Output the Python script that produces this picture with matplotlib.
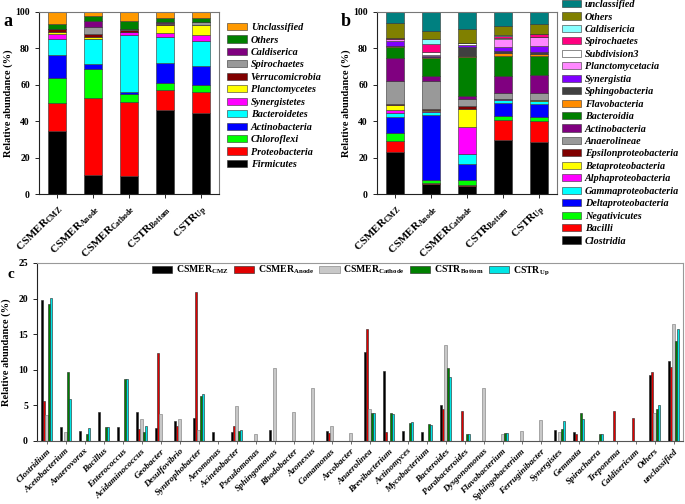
import numpy as np
import matplotlib
matplotlib.use("Agg")
import matplotlib.pyplot as plt

plt.rcParams['font.family'] = ['Liberation Serif', 'DejaVu Serif']
plt.rcParams['font.weight'] = 'bold'
plt.rcParams['mathtext.fontset'] = 'custom'
plt.rcParams['mathtext.rm'] = 'Liberation Serif:bold'
plt.rcParams['mathtext.bf'] = 'Liberation Serif:bold'
plt.rcParams['mathtext.it'] = 'Liberation Serif:italic:bold'

samples = [r"CSMER$_{\mathrm{CMZ}}$", r"CSMER$_{\mathrm{Anode}}$", r"CSMER$_{\mathrm{Cathode}}$",
           r"CSTR$_{\mathrm{Bottom}}$", r"CSTR$_{\mathrm{Up}}$"]

# panel a: phylum level (bottom -> top)
phyla = ['Firmicutes', 'Proteobacteria', 'Chloroflexi', 'Actinobacteria', 'Bacteroidetes',
         'Synergistetes', 'Planctomycetes', 'Verrucomicrobia', 'Spirochaetes', 'Caldiserica',
         'Others', 'Unclassified']
phyla_colors = ['#000000', '#ff0000', '#00ff00', '#0000ff', '#00ffff', '#ff00ff', '#ffff00',
                '#800000', '#999999', '#800080', '#008000', '#ff9900']
firmicutes = [34.5, 10.3, 9.9, 46.2, 44.6]
proteobacteria = [15.6, 42.2, 40.6, 10.7, 11.2]
chloroflexi = [13.6, 16.1, 4.4, 4.0, 4.2]
actinobacteria_p = [12.6, 2.8, 1.4, 11.2, 10.5]
bacteroidetes = [8.7, 13.6, 31.2, 14.3, 13.4]
synergistetes = [2.9, 0.3, 1.3, 1.9, 3.3]
planctomycetes = [1.3, 0.8, 0.3, 4.7, 5.6]
verrucomicrobia = [1.3, 1.6, 1.2, 0.3, 0.3]
spirochaetes_p = [0.0, 4.3, 0.3, 0.9, 1.2]
caldiserica = [0.3, 3.3, 0.2, 0.2, 0.2]
others_p = [2.6, 2.4, 4.4, 2.5, 2.4]
unclassified_p = [6.6, 2.3, 4.8, 3.1, 3.1]
phyla_values = [firmicutes, proteobacteria, chloroflexi, actinobacteria_p, bacteroidetes,
                synergistetes, planctomycetes, verrucomicrobia, spirochaetes_p, caldiserica,
                others_p, unclassified_p]

# panel b: class level (bottom -> top)
classes = ['Clostridia', 'Bacilli', 'Negativicutes', 'Deltaproteobacteria', 'Gammaproteobacteria',
           'Alphaproteobacteria', 'Betaproteobacteria', 'Epsilonproteobacteria', 'Anaerolineae',
           'Actinobacteria', 'Bacteroidia', 'Flavobacteria', 'Sphingobacteria', 'Synergistia',
           'Planctomycetacia', 'Subdivision3', 'Spirochaetes', 'Caldisericia', 'Others',
           'unclassified']
class_colors = ['#000000', '#ff0000', '#00ff00', '#0000ff', '#00ffff', '#ff00ff', '#ffff00',
                '#800000', '#999999', '#800080', '#008000', '#ff8c00', '#404040', '#8000ff',
                '#ff88ff', '#ffffff', '#ff0080', '#88ffff', '#808000', '#008080']
clostridia = [23.1, 5.7, 4.6, 29.7, 28.4]
bacilli = [6.2, 0.3, 0.1, 11.1, 11.5]
negativicutes = [4.2, 1.7, 3.0, 1.9, 2.2]
delta = [8.6, 35.7, 8.8, 7.3, 7.5]
gamma = [2.6, 1.8, 5.7, 1.8, 1.5]
alpha = [1.6, 0.3, 14.6, 0.2, 0.2]
beta = [2.8, 0.8, 10.1, 0.2, 0.2]
epsilon = [0.2, 0.2, 1.3, 0.2, 0.2]
anaerolineae = [13.0, 15.8, 4.2, 3.3, 3.8]
actinobacteria_c = [12.4, 2.5, 1.4, 9.3, 9.9]
bacteroidia = [6.3, 10.1, 21.3, 11.0, 10.2]
flavobacteria = [0.1, 0.2, 0.7, 1.3, 1.3]
sphingobacteria = [0.1, 0.2, 4.8, 1.3, 1.3]
synergistia = [2.7, 0.7, 1.2, 2.0, 3.1]
planctomycetacia = [1.1, 0.6, 0.3, 4.7, 4.8]
subdivision3 = [0.4, 1.2, 0.8, 0.3, 0.3]
spirochaetes_c = [0.1, 4.8, 0.1, 1.4, 1.3]
caldisericia = [0.3, 2.7, 0.1, 0.2, 0.2]
others_c = [8.2, 4.4, 7.6, 5.3, 5.3]
unclassified_c = [6.0, 10.3, 9.3, 7.5, 7.0]
class_values = [clostridia, bacilli, negativicutes, delta, gamma, alpha, beta, epsilon,
                anaerolineae, actinobacteria_c, bacteroidia, flavobacteria, sphingobacteria,
                synergistia, planctomycetacia, subdivision3, spirochaetes_c, caldisericia,
                others_c, unclassified_c]

# panel c: genus level
genera = ['Clostridium', 'Acetobacterium', 'Anaerovorax', 'Bacillus', 'Enterococcus',
          'Acidaminococcus', 'Geobacter', 'Desulfovibrio', 'Syntrophobacter', 'Aeromonas',
          'Acinetobacter', 'Pseudomonas', 'Sphingomonas', 'Rhodobacter', 'Azonexus',
          'Comamonas', 'Arcobacter', 'Anaerolinea', 'Brevibacterium', 'Actinomyces',
          'Mycobacterium', 'Bacteroides', 'Parabacteroides', 'Dysgonomonas', 'Flavobacterium',
          'Sphingobacterium', 'Ferruginibacter', 'Synergistes', 'Gemmata', 'Spirachaera',
          'Treponema', 'Caldisericum', 'Others', 'unclassified']
g_cmz = [19.8, 1.9, 1.4, 4.1, 2.0, 4.1, 1.8, 2.8, 3.2, 1.3, 1.3, 0, 1.5, 0, 0, 1.45, 0,
         12.55, 9.8, 1.35, 1.2, 5.0, 0, 0, 0, 0, 0, 1.55, 1.2, 0, 0, 0, 9.2, 11.2]
g_anode = [5.6, 0, 0, 0, 0, 1.7, 12.4, 2.1, 20.9, 0, 2.05, 0, 0, 0, 0, 1.1, 0,
           15.7, 1.3, 0, 0, 4.5, 4.15, 0, 0, 0, 0, 0, 1.05, 0, 4.2, 3.2, 9.7, 10.4]
g_cathode = [3.6, 1.2, 0, 0, 0, 3.1, 3.8, 3.1, 1.5, 0, 4.95, 1.05, 10.2, 4.05, 7.5, 2.1, 1.15,
             4.5, 0, 0, 0, 13.5, 0, 7.5, 1.0, 1.45, 3.0, 1.2, 0, 0, 0, 0, 3.9, 16.5]
g_bottom = [19.2, 9.7, 1.0, 1.9, 8.7, 1.2, 0, 0, 6.3, 0, 1.45, 0, 0, 0, 0, 0, 0,
            4.0, 4.0, 2.5, 2.4, 10.3, 1.05, 0, 1.1, 0, 0, 1.65, 3.9, 1.05, 0, 0, 4.5, 14.1]
g_up = [20.1, 5.9, 1.8, 1.9, 8.7, 2.1, 0, 0, 6.6, 0, 1.5, 0, 0, 0, 0, 0, 0,
        4.0, 3.75, 2.6, 2.2, 8.95, 1.05, 0, 1.1, 0, 0, 2.75, 3.1, 1.05, 0, 0, 5.1, 15.7]
genus_series = [g_cmz, g_anode, g_cathode, g_bottom, g_up]
genus_colors = ['#000000', '#e00000', '#c8c8c8', '#008000', '#00e5e5']

fig = plt.figure(figsize=(6.85, 5.04), dpi=100)
W, H = 685.0, 504.0


def px_axes(x0, y0, x1, y1):
    return fig.add_axes([x0 / W, 1 - y1 / H, (x1 - x0) / W, (y1 - y0) / H])


def stacked(ax, names, colors, values):
    x = np.arange(len(samples))
    bottom = np.zeros(len(samples))
    handles = []
    for name, col, vals in zip(names, colors, values):
        b = ax.bar(x, vals, 0.5, bottom=bottom, color=col, edgecolor='#333333',
                   linewidth=0.4, label=name)
        bottom += np.array(vals)
        handles.append(b)
    ax.set_xlim(-0.5, 4.5)
    ax.set_ylim(0, 100)
    ax.set_yticks(range(0, 101, 20))
    ax.set_xticks(x)
    ax.set_xticklabels(samples, rotation=45, ha='right', rotation_mode='anchor', fontsize=8)
    ax.tick_params(axis='y', labelsize=7, length=3, width=0.6)
    ax.tick_params(axis='x', length=3, width=0.6)
    ax.set_ylabel('Relative abundance (%)', fontsize=7.5, fontweight='bold', labelpad=2)
    for s in ax.spines.values():
        s.set_color('#777777')
        s.set_linewidth(0.8)
    ax.spines['left'].set_color('#222222')
    ax.spines['bottom'].set_color('#222222')
    return handles


# panel a
ax1 = px_axes(39, 12, 219, 194)
h1 = stacked(ax1, phyla, phyla_colors, phyla_values)
fig.legend(h1[::-1], phyla[::-1], loc='upper left', bbox_to_anchor=(227 / W, 1 - 23 / H),
           frameon=False, prop={'style': 'italic', 'weight': 'bold', 'size': 7.3},
           handlelength=2.0, handleheight=0.7, handletextpad=0.35, labelspacing=0.33,
           borderpad=0, borderaxespad=0)
fig.text(3 / W, 1 - 26 / H, 'a', fontsize=13, fontweight='bold')

# panel b
ax2 = px_axes(377, 12, 557, 194)
h2 = stacked(ax2, classes, class_colors, class_values)
fig.legend(h2[::-1], classes[::-1], loc='upper left', bbox_to_anchor=(562 / W, 1 - 0 / H),
           frameon=False, prop={'style': 'italic', 'weight': 'bold', 'size': 7.3},
           handlelength=1.9, handleheight=0.7, handletextpad=0.35, labelspacing=0.33,
           borderpad=0, borderaxespad=0)
fig.text(341 / W, 1 - 26 / H, 'b', fontsize=13, fontweight='bold')

# panel c
ax3 = px_axes(37, 263, 683, 441)
xg = np.arange(len(genera))
bw = 0.125
for i, (vals, col) in enumerate(zip(genus_series, genus_colors)):
    ec = '#777777' if i == 2 else '#222222'
    ax3.bar(xg + (i - 2) * bw, vals, bw, color=col, edgecolor=ec, linewidth=0.4,
            label=samples[i])
ax3.set_xlim(-0.5, len(genera) - 0.5)
ax3.set_ylim(0, 25)
ax3.set_yticks(range(0, 26, 5))
ax3.set_xticks(xg)
ax3.set_xticklabels(genera, rotation=45, ha='right', rotation_mode='anchor', fontsize=6.6,
                    style='italic')
ax3.tick_params(axis='y', labelsize=7, length=3, width=0.6)
ax3.tick_params(axis='x', length=2.5, width=0.6, colors='#555555', labelcolor='black', pad=2)
ax3.set_ylabel('Relative abundance (%)', fontsize=7.5, fontweight='bold', labelpad=5)
for s in ax3.spines.values():
    s.set_color('#999999')
    s.set_linewidth(0.8)
ax3.spines['left'].set_color('#222222')
ax3.spines['bottom'].set_color('#555555')
ax3.legend(loc='upper left', bbox_to_anchor=(152 / W, 1 - 264 / H),
           bbox_transform=fig.transFigure, ncol=5, frameon=False,
           prop={'weight': 'bold', 'size': 7}, handlelength=2.1, handleheight=0.8,
           handletextpad=0.4, columnspacing=0.5, borderpad=0, borderaxespad=0)
fig.text(7 / W, 1 - 278 / H, 'c', fontsize=11, fontweight='bold')

fig.savefig('out.png', dpi=100)
